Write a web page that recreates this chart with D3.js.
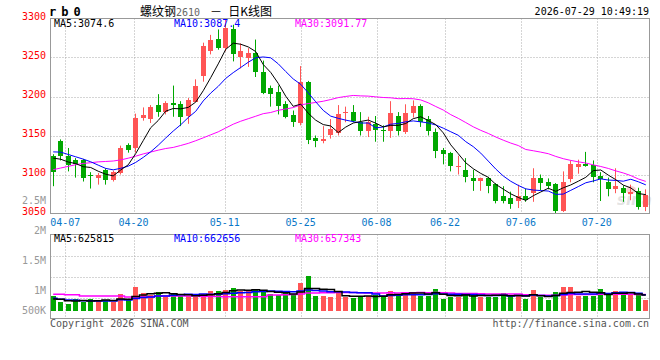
<!DOCTYPE html>
<html>
<head>
<meta charset="utf-8">
<script src="https://cdn.jsdelivr.net/npm/d3@7"></script>
<style>
  body { margin: 0; background: #fff; }
  svg { display: block; }
  text { font-family: "DejaVu Sans Mono", monospace; font-size: 10px; }
</style>
</head>
<body>
<div id="chart"></div>
<script>
// ========== DATA ==========
const dates = [
  "04-02","04-03","04-07","04-08","04-09","04-10","04-13","04-14","04-15","04-16",
  "04-17","04-20","04-21","04-22","04-23","04-24","04-27","04-28","04-29","04-30",
  "05-06","05-07","05-08","05-11","05-12","05-13","05-14","05-15","05-18","05-19",
  "05-20","05-21","05-22","05-25","05-26","05-27","05-28","05-29","06-01","06-02",
  "06-03","06-04","06-05","06-08","06-09","06-10","06-11","06-12","06-15","06-16",
  "06-17","06-18","06-22","06-23","06-24","06-25","06-26","06-29","06-30","07-01",
  "07-02","07-03","07-06","07-07","07-08","07-09","07-10","07-13","07-14","07-15",
  "07-16","07-17","07-20","07-21","07-22","07-23","07-24","07-27","07-28","07-29"
];
const openP = [
  3124,3143,3124,3119,3119,3100,3096,3106,3093,3102,
  3138,3133,3172,3170,3189,3181,3192,3191,3175,3194,
  3226,3259,3274,3262,3286,3250,3250,3256,3232,3211,
  3206,3191,3176,3167,3219,3147,3144,3150,3153,3179,
  3180,3167,3156,3165,3157,3156,3175,3155,3179,3188,
  3171,3155,3131,3128,3110,3106,3096,3092,3096,3088,
  3073,3070,3066,3072,3077,3096,3091,3088,3053,3095,
  3110,3114,3112,3098,3090,3081,3083,3075,3079,3058
];
const highP = [
  3126,3145,3134,3121,3120,3103,3102,3108,3105,3137,
  3140,3178,3186,3189,3203,3194,3214,3194,3198,3222,
  3269,3279,3286,3299,3292,3268,3262,3273,3246,3214,
  3214,3194,3182,3239,3220,3150,3162,3171,3189,3187,
  3189,3180,3174,3175,3163,3194,3180,3190,3195,3190,
  3175,3159,3134,3129,3124,3121,3106,3096,3097,3089,
  3085,3078,3087,3082,3108,3100,3095,3089,3104,3118,
  3119,3129,3118,3103,3096,3108,3086,3087,3083,3081
];
const lowP = [
  3085,3118,3104,3096,3091,3082,3087,3087,3091,3100,
  3128,3128,3169,3166,3174,3177,3174,3162,3165,3193,
  3219,3254,3260,3258,3245,3236,3238,3225,3203,3187,
  3177,3172,3161,3163,3139,3135,3140,3146,3150,3167,
  3167,3150,3148,3142,3142,3147,3150,3152,3173,3161,
  3150,3121,3113,3104,3100,3090,3079,3079,3076,3063,
  3063,3056,3057,3065,3065,3080,3081,3050,3052,3090,
  3101,3110,3090,3066,3072,3076,3065,3067,3055,3053
];
const closeP = [
  3104,3124,3112,3114,3096,3099,3100,3093,3103,3134,
  3132,3172,3176,3186,3180,3192,3189,3174,3195,3214,
  3265,3273,3262,3288,3254,3258,3256,3232,3205,3203,
  3188,3174,3167,3219,3145,3143,3146,3158,3177,3180,
  3169,3156,3167,3157,3156,3179,3156,3179,3188,3168,
  3155,3130,3126,3111,3111,3097,3092,3096,3086,3066,
  3066,3062,3073,3067,3096,3090,3086,3053,3090,3114,
  3114,3111,3096,3094,3081,3085,3076,3078,3058,3074
];
const volume = [
  637000,471000,404000,549000,471000,549000,520000,520000,471000,695000,
  520000,908000,733000,666000,763000,599000,733000,637000,637000,599000,
  695000,792000,782000,811000,879000,782000,782000,840000,743000,695000,
  666000,714000,666000,1024000,1219000,637000,637000,617000,733000,599000,
  569000,637000,637000,666000,637000,792000,666000,763000,763000,637000,
  637000,840000,549000,599000,599000,733000,695000,617000,617000,617000,
  733000,637000,637000,549000,811000,599000,520000,763000,908000,908000,
  637000,637000,637000,840000,666000,792000,666000,695000,666000,520000
];

// moving averages before the window starts
const ma5Lead = [3121, 3119.6, 3116, 3114];
const ma10Lead = [3129, 3128.7, 3125.7, 3122.7, 3119.7, 3116.3, 3112, 3107.8, 3106];
const ma30Lead = [
  3106.2,3108.3,3110.4,3112.6,3114.2,3115.1,3116.2,3116.7,3117.3,3118.7,
  3120.9,3123.5,3126.4,3128.8,3131.2,3133.3,3134.7,3137.2,3139.9,3143.3,
  3147,3150.9,3154.7,3159.6,3164.5,3168.3,3171.5,3174.7,3178
];
const vma5Lead = [549000, 540000, 500000, 490000];
const vma10Lead = [569000, 540000, 520000, 510000, 500000, 500000, 490000, 490000, 490000];
const vma30Lead = [
  690000,690000,670000,670000,637000,637000,637000,637000,637000,637000,
  610000,610000,610000,610000,637000,637000,637000,637000,637000,637000,
  620000,620000,620000,617000,617000,617000,617000,617000,617000
];

const tickDates = ["04-07","04-20","05-11","05-25","06-08","06-22","07-06","07-20"];
const priceTicks = [3300, 3250, 3200, 3150, 3100, 3050];
const volTicks = [2500000, 2000000, 1500000, 1000000, 500000];
const volTickLabels = ["2.5M", "2M", "1.5M", "1M", "500K"];

const maLabels = ["MA5:3074.6", "MA10:3087.4", "MA30:3091.77"];
const volMaLabels = ["MA5:625815", "MA10:662656", "MA30:657343"];

// ========== HELPERS ==========
function movingAvg(values, n, lead) {
  return values.map((v, i) => i < n - 1 ? lead[i] : d3.mean(values.slice(i - n + 1, i + 1)));
}

const RED = "#ff5555";
const GREEN = "#00a800";
const GRID = "#aaaaaa";
const BORDER = "#999999";

// ========== CHART ==========
const width = 660, height = 360;
const left = 50.5, right = 649.5;
const mainTop = 18.5, mainBottom = 213.5;
const volTop = 234.5, volBottom = 318.5;

const svg = d3.select("#chart").append("svg")
  .attr("width", width)
  .attr("height", height);

const x = d3.scalePoint().domain(dates).range([53.2, 645.8]);
const xTick = d3.scalePoint().domain(dates).range([50, 650]);
const y = d3.scaleLinear().domain([3050, 3300]).range([mainBottom, mainTop]);
const yVol = d3.scaleLinear().domain([200000, 2500000]).range([311, 232]);
const yVolLabel = d3.scaleLinear().domain([1000000, 2500000]).range([293.5, 203.5]);

const rows = dates.map((d, i) => ({
  date: d, open: openP[i], high: highP[i], low: lowP[i], close: closeP[i], vol: volume[i]
}));
const colorOf = d => d.close >= d.open ? RED : GREEN;

// --- grids ---
const grid = svg.append("g");
grid.selectAll(".hgrid")
  .data(priceTicks.slice(1, -1))
  .join("line")
  .attr("x1", left).attr("x2", right)
  .attr("y1", d => Math.round(y(d)) + 0.5)
  .attr("y2", d => Math.round(y(d)) + 0.5)
  .attr("stroke", GRID)
  .attr("stroke-dasharray", "1,2");

const volGridY = d3.range(1, 4).map(k => volTop + (volBottom - volTop) * k / 4);
grid.selectAll(".vhgrid")
  .data(volGridY)
  .join("line")
  .attr("x1", left).attr("x2", right)
  .attr("y1", d => Math.round(d) + 0.5)
  .attr("y2", d => Math.round(d) + 0.5)
  .attr("stroke", GRID)
  .attr("stroke-dasharray", "1,2");

[[mainTop, mainBottom], [volTop, volBottom]].forEach(([t, b]) => {
  grid.selectAll(null)
    .data(tickDates)
    .join("line")
    .attr("x1", d => Math.round(xTick(d)) + 0.5)
    .attr("x2", d => Math.round(xTick(d)) + 0.5)
    .attr("y1", t).attr("y2", b)
    .attr("stroke", GRID)
    .attr("stroke-dasharray", "1,2");
});

// --- sina watermark ---
const wm = svg.append("g").attr("opacity", 0.35);
wm.append("ellipse").attr("cx", 631).attr("cy", 190).attr("rx", 5).attr("ry", 4).attr("fill", "#f08080");
wm.append("text")
  .attr("x", 617).attr("y", 205)
  .style("font-family", "DejaVu Sans, sans-serif")
  .style("font-size", "15px")
  .style("font-style", "italic")
  .style("font-weight", "bold")
  .attr("fill", "#b0b0b0")
  .text("sina");

// --- candles ---
const candles = svg.append("g");
const cg = candles.selectAll("g")
  .data(rows)
  .join("g");

cg.append("line")
  .attr("x1", d => Math.round(x(d.date) - 2.5) + 2.5)
  .attr("x2", d => Math.round(x(d.date) - 2.5) + 2.5)
  .attr("y1", d => y(d.high))
  .attr("y2", d => y(d.low))
  .attr("stroke", colorOf);

cg.append("rect")
  .attr("x", d => Math.round(x(d.date) - 2.5))
  .attr("width", 5)
  .attr("y", d => Math.round(y(Math.max(d.open, d.close))))
  .attr("height", d => Math.max(1, Math.round(Math.abs(y(d.open) - y(d.close)))))
  .attr("fill", colorOf);

// --- moving averages ---
const ma5 = movingAvg(closeP, 5, ma5Lead);
const ma10 = movingAvg(closeP, 10, ma10Lead);
const ma30 = movingAvg(closeP, 30, ma30Lead);

const maLine = d3.line()
  .x((d, i) => x(dates[i]))
  .y(d => y(d));

[[ma30, "#ff00ff"], [ma10, "#0000ff"], [ma5, "#000000"]].forEach(([vals, col]) => {
  svg.append("path")
    .datum(vals)
    .attr("d", maLine)
    .attr("fill", "none")
    .attr("stroke", col)
    .attr("stroke-width", 1);
});

// --- volume bars ---
svg.append("g").selectAll("rect")
  .data(rows)
  .join("rect")
  .attr("x", d => Math.round(x(d.date) - 2.5))
  .attr("width", 5)
  .attr("y", d => Math.round(yVol(d.vol)))
  .attr("height", d => Math.round(yVol(200000)) - Math.round(yVol(d.vol)))
  .attr("fill", colorOf);

const vma5 = movingAvg(volume, 5, vma5Lead);
const vma10 = movingAvg(volume, 10, vma10Lead);
const vma30 = movingAvg(volume, 30, vma30Lead);

const volLine = d3.line()
  .x((d, i) => x(dates[i]))
  .y(d => yVol(d))
  .curve(d3.curveStep);

[[vma30, "#ff00ff"], [vma10, "#0000ff"], [vma5, "#000000"]].forEach(([vals, col]) => {
  svg.append("path")
    .datum(vals)
    .attr("d", volLine)
    .attr("fill", "none")
    .attr("stroke", col)
    .attr("stroke-width", 1.5);
});

// --- panel borders ---
[[mainTop, mainBottom], [volTop, volBottom]].forEach(([t, b]) => {
  svg.append("rect")
    .attr("x", left).attr("y", t)
    .attr("width", right - left).attr("height", b - t)
    .attr("fill", "none")
    .attr("stroke", BORDER);
});

// --- axis labels ---
svg.append("g").selectAll("text")
  .data(priceTicks)
  .join("text")
  .attr("x", 46)
  .attr("y", d => y(d) + 1.5)
  .attr("text-anchor", "end")
  .attr("fill", "#ff0000")
  .text(d => d);

svg.append("g").selectAll("text")
  .data(volTicks)
  .join("text")
  .attr("x", 46)
  .attr("y", d => Math.min(yVolLabel(d), volBottom - 5))
  .attr("text-anchor", "end")
  .attr("fill", "#999999")
  .text((d, i) => volTickLabels[i]);

svg.append("g").selectAll("text")
  .data(tickDates)
  .join("text")
  .attr("x", d => xTick(d))
  .attr("y", 225.5)
  .attr("text-anchor", "middle")
  .attr("fill", "#0a78c8")
  .text(d => d);

// --- MA legends ---
const legendX = [54, 174, 295];
const legendCol = ["#000000", "#0000ff", "#ff00ff"];
svg.append("g").selectAll("text")
  .data(maLabels)
  .join("text")
  .attr("x", (d, i) => legendX[i])
  .attr("y", 27)
  .attr("fill", (d, i) => legendCol[i])
  .text(d => d);

svg.append("g").selectAll("text")
  .data(volMaLabels)
  .join("text")
  .attr("x", (d, i) => legendX[i])
  .attr("y", 242)
  .attr("fill", (d, i) => legendCol[i])
  .text(d => d);

// --- header ---
svg.append("text")
  .attr("x", 49).attr("y", 16)
  .style("font-size", "12px")
  .style("font-weight", "bold")
  .style("letter-spacing", "5px")
  .text("rb0");

const title = svg.append("text")
  .attr("x", 140).attr("y", 16)
  .style("font-family", "'Noto Sans CJK SC', sans-serif")
  .style("font-size", "12px");
title.append("tspan").text("螺纹钢");
title.append("tspan")
  .style("font-family", "'DejaVu Sans Mono', monospace")
  .style("font-size", "10px")
  .attr("fill", "#666")
  .text("2610");
title.append("tspan").attr("dx", 10).text("－");
title.append("tspan").attr("dx", 6).text("日K线图");

svg.append("text")
  .attr("x", 649).attr("y", 15)
  .attr("text-anchor", "end")
  .text("2026-07-29 10:49:19");

// --- footer ---
svg.append("text")
  .attr("x", 50).attr("y", 327)
  .attr("fill", "#555")
  .text("Copyright 2026 SINA.COM");

svg.append("text")
  .attr("x", 649).attr("y", 327)
  .attr("text-anchor", "end")
  .attr("fill", "#555")
  .text("http://finance.sina.com.cn");
</script>
</body>
</html>
